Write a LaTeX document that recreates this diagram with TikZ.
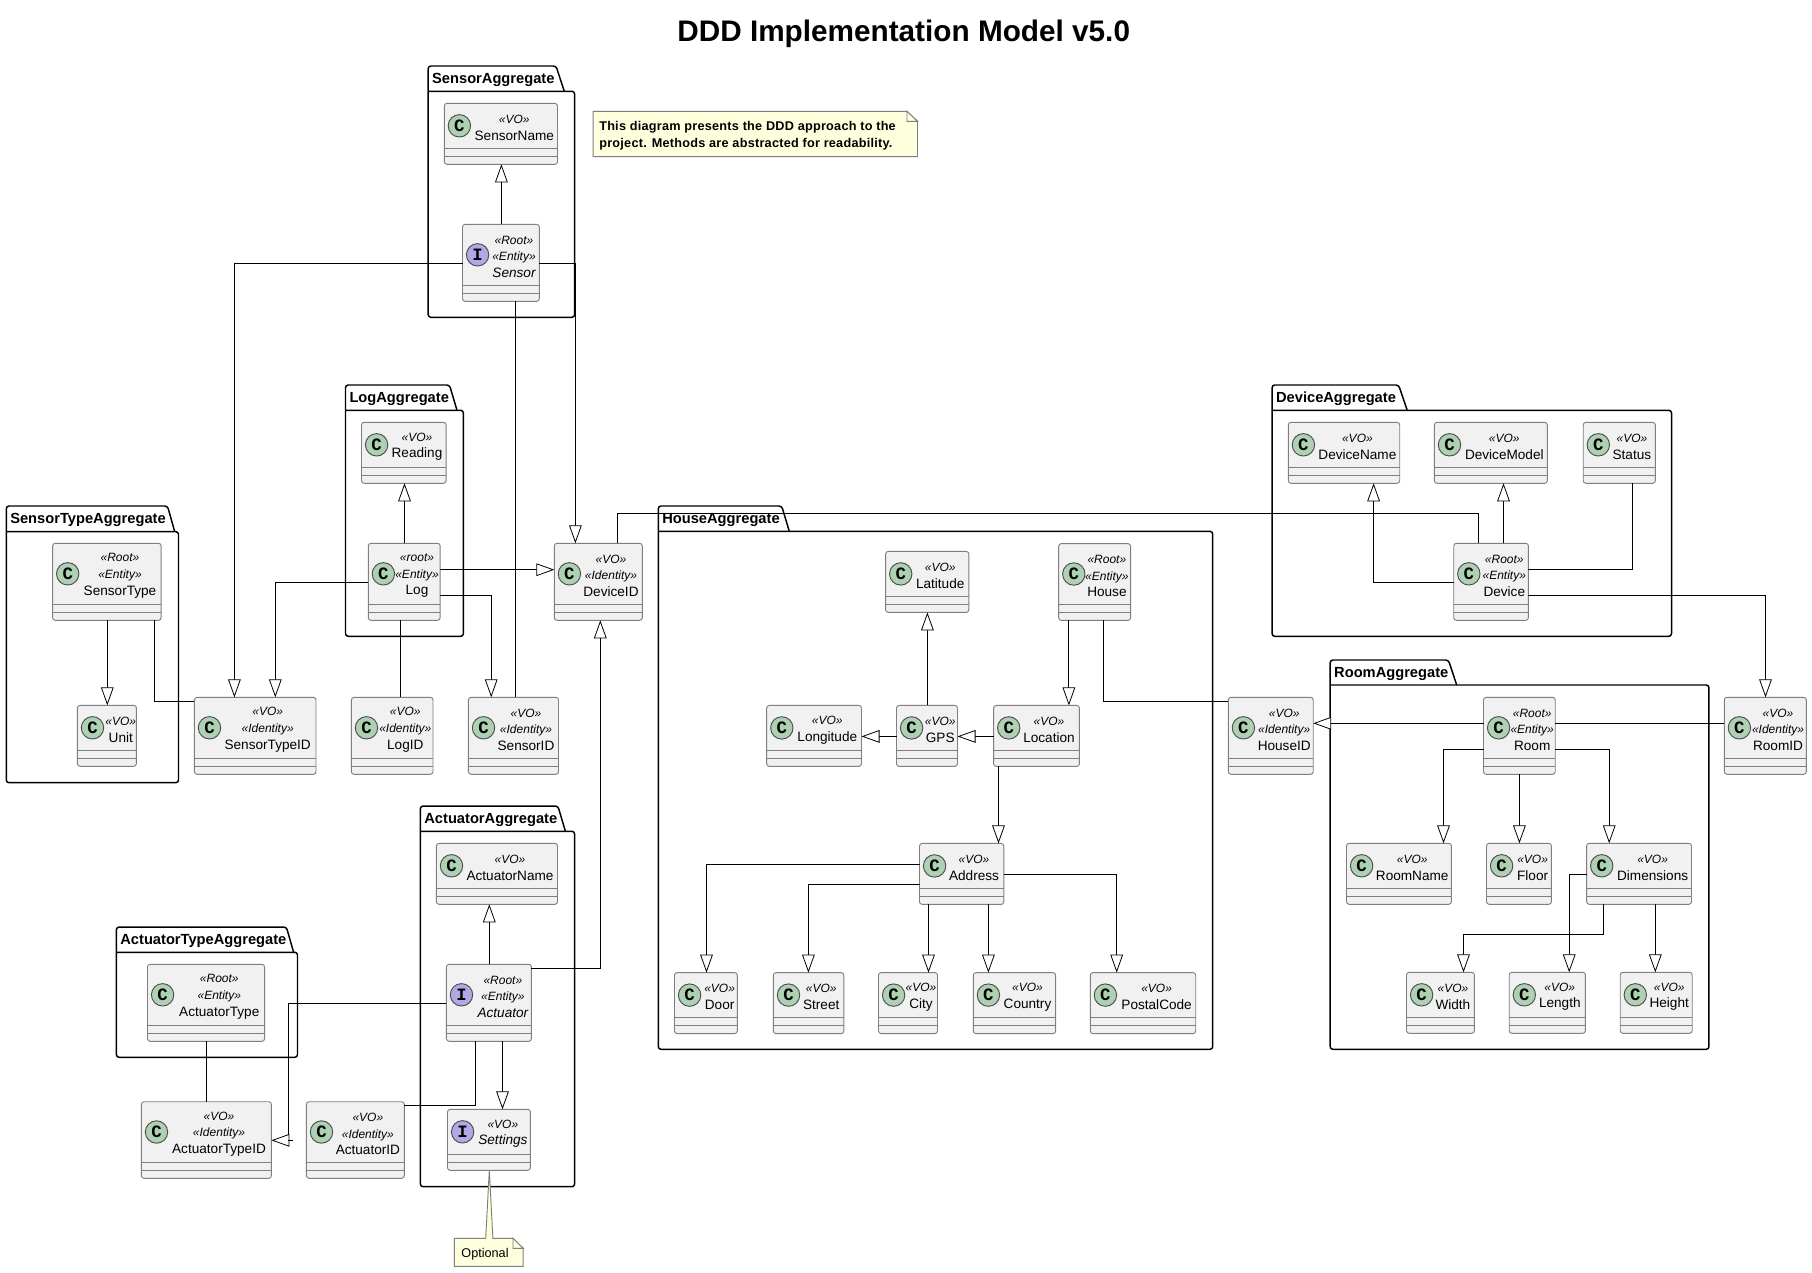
\documentclass[tikz,border=0pt]{standalone}
\usepackage{fontspec}
\setmainfont{Liberation Sans}
\newfontfamily\spotfamily{Liberation Mono}
\newfontfamily\notefamily[LetterSpace=2]{Liberation Sans}
\usetikzlibrary{arrows.meta}
\definecolor{boxfill}{HTML}{F1F1F1}
\definecolor{boxline}{HTML}{7F7F7F}
\definecolor{spotc}{HTML}{ADD1B2}
\definecolor{spoti}{HTML}{B4A7E5}
\definecolor{notefill}{HTML}{FEFFDD}
\tikzset{
  clsbox/.style={draw=boxline,fill=boxfill,line width=0.7pt,rounded corners=2pt,inner sep=0pt,outer sep=0pt},
  divline/.style={draw=boxline,line width=0.7pt},
  spotnode/.style={circle,draw=black!70,line width=0.7pt,minimum size=16.8pt,inner sep=0pt,outer sep=0pt,font=\spotfamily\bfseries\fontsize{13}{13}\selectfont},
  clstext/.style={align=center,inner sep=0pt,outer sep=0pt,font=\fontsize{10.2}{12.5}\selectfont},
  pkgtext/.style={anchor=west,inner sep=0pt,outer sep=0pt,font=\bfseries\fontsize{11}{13}\selectfont},
  link/.style={draw=black,line width=0.75pt},
  gen/.style={link,-{Triangle[length=13.5pt,width=9.5pt,fill=white,line width=0.6pt]}},
  noteline/.style={draw=boxline,fill=notefill,line width=0.7pt},
}
\newcommand{\st}[1]{{\fontsize{9}{12.5}\selectfont\itshape «#1»}}
% name x1 y1 x2 y2 kind(c/i) textx text
\newcommand{\cls}[8]{%
  \node[clsbox,minimum width={(#4-#2)*0.75pt},minimum height={(#5-#3)*0.75pt}] (#1) at ({(#2+#4)/2},{(#3+#5)/2}) {};
  \draw[divline] ([yshift=12pt]#1.south west) -- ([yshift=12pt]#1.south east);
  \draw[divline] ([yshift=6pt]#1.south west) -- ([yshift=6pt]#1.south east);
  \node[spotnode,fill=spot#6] (#1spot) at ({#2+15.1},{(#3+#5-16)/2}) {\MakeUppercase{#6}};
  \node[clstext] (#1text) at ({#7},{(#3+#5-16)/2+2}) {#8};
}
% name label x1 ytop tabtopright tabbaseright ybody x2 y2
\newcommand{\pkg}[9]{%
  \draw[draw=black,line width=1.1pt,line join=round] (#3,#7) [rounded corners=2pt] -- (#3,#4) -- (#5,#4) -- (#6,#7);
  \draw[draw=black,line width=1.1pt,line join=round] (#3,#7) -- (#8-2,#7) [rounded corners=2pt] -- (#8,#7) -- (#8,#9) -- (#3,#9) -- (#3,#7);
  \node[pkgtext] (#1) at ({#3+4},{(#4+#7)/2+1.5}) {#2};
}
\begin{document}
\begin{tikzpicture}[x=0.75pt,y=-0.75pt]
\useasboundingbox (0,0) rectangle (1812,1272);
\fill[white] (0,0) rectangle (1812,1272);
\node[font=\bfseries\fontsize{22.3}{26}\selectfont,inner sep=0pt] (title) at (903.7,33.8) {DDD Implementation Model v5.0};

\pkg{pSensor}{SensorAggregate}{428.2}{66}{556}{564.3}{91.3}{574.6}{317.3}
\pkg{pLog}{LogAggregate}{345.5}{385}{449.5}{457}{410.3}{463.4}{636.3}
\pkg{pSensorType}{SensorTypeAggregate}{6.3}{506}{167.5}{174.7}{531.7}{178.5}{782.7}
\pkg{pActuator}{ActuatorAggregate}{420.4}{806}{557.9}{565.4}{831.3}{574.6}{1186.7}
\pkg{pActuatorType}{ActuatorTypeAggregate}{116.4}{927}{286.4}{293.6}{952.3}{297.5}{1057.3}
\pkg{pHouse}{HouseAggregate}{658.3}{506}{781.7}{789.3}{531.4}{1212.7}{1049.3}
\pkg{pDevice}{DeviceAggregate}{1272.1}{385}{1398.6}{1407.2}{410.3}{1671.5}{636.3}
\pkg{pRoom}{RoomAggregate}{1330.2}{660}{1448.4}{1456.7}{685}{1708.9}{1049.3}

% notes
\path[noteline] (593.2,111.3) -- (907,111.3) -- (917.5,121.3) -- (917.5,156.7) -- (593.2,156.7) -- cycle;
\path[noteline] (907,111.3) -- (907,121.3) -- (917.5,121.3) -- cycle;
\node[anchor=west,inner sep=0pt,align=left,font=\notefamily\bfseries\fontsize{9.5}{12.75}\selectfont] (noteA) at (599,135.8) {This diagram presents the DDD approach to the\\project. Methods are abstracted for readability.};

% Sensor
\cls{SensorName}{444.3}{103.3}{557.5}{164.3}{c}{514.3}{\st{VO}\\SensorName}
\cls{Sensor}{462.5}{224.3}{539.3}{301.3}{i}{514}{\st{Root}\\\st{Entity}\\\itshape Sensor}
% Log
\cls{Reading}{361.5}{422.3}{446.1}{483.3}{c}{417}{\st{VO}\\Reading}
\cls{Log}{368.3}{543.3}{440.2}{620.3}{c}{417}{\st{root}\\\st{Entity}\\Log}
% SensorType
\cls{SensorType}{52.6}{543.3}{161.2}{620.3}{c}{120}{\st{Root}\\\st{Entity}\\SensorType}
\cls{Unit}{77.4}{705.3}{136.4}{766.3}{c}{120.8}{\st{VO}\\Unit}
% IDs
\cls{SensorTypeID}{194.4}{697.3}{316}{774.3}{c}{267.7}{\st{VO}\\\st{Identity}\\SensorTypeID}
\cls{LogID}{351.4}{697.3}{433}{774.3}{c}{405.3}{\st{VO}\\\st{Identity}\\LogID}
\cls{SensorID}{468.4}{697.3}{558.5}{774.3}{c}{526}{\st{VO}\\\st{Identity}\\SensorID}
\cls{DeviceID}{554.3}{543.3}{642.3}{620.3}{c}{611}{\st{VO}\\\st{Identity}\\DeviceID}
% Actuator
\cls{ActuatorName}{436.4}{843.3}{557.5}{904.3}{c}{510}{\st{VO}\\ActuatorName}
\cls{Actuator}{446.4}{964.3}{531.4}{1041.3}{i}{502.9}{\st{Root}\\\st{Entity}\\\itshape Actuator}
\cls{Settings}{447.5}{1109.3}{530.4}{1170.3}{i}{502.9}{\st{VO}\\\itshape Settings}
\cls{ActuatorType}{147.5}{964.3}{264.6}{1041.3}{c}{219.3}{\st{Root}\\\st{Entity}\\ActuatorType}
\cls{ActuatorTypeID}{141.4}{1101.7}{271.4}{1178.3}{c}{219}{\st{VO}\\\st{Identity}\\ActuatorTypeID}
\cls{ActuatorID}{306.4}{1101.7}{404.3}{1178.3}{c}{367.9}{\st{VO}\\\st{Identity}\\ActuatorID}
% House
\cls{House}{1058.7}{543.6}{1130.6}{620.4}{c}{1106.9}{\st{Root}\\\st{Entity}\\House}
\cls{Latitude}{885.6}{551.4}{968.8}{612.4}{c}{940.2}{\st{VO}\\Latitude}
\cls{Longitude}{766.7}{705.4}{861.5}{766.4}{c}{827.3}{\st{VO}\\Longitude}
\cls{GPS}{896.5}{705.4}{957.5}{766.4}{c}{940.2}{\st{VO}\\GPS}
\cls{Location}{993.6}{705.4}{1079.4}{766.4}{c}{1049}{\st{VO}\\Location}
\cls{Address}{919.5}{843.4}{1003.8}{904.4}{c}{974}{\st{VO}\\Address}
\cls{Door}{674.5}{972.6}{737.3}{1033.6}{c}{719.6}{\st{VO}\\Door}
\cls{Street}{773.4}{972.6}{843.8}{1033.6}{c}{821.2}{\st{VO}\\Street}
\cls{City}{878.5}{972.6}{937.5}{1033.6}{c}{921}{\st{VO}\\City}
\cls{Country}{973.3}{972.6}{1055.7}{1033.6}{c}{1027.5}{\st{VO}\\Country}
\cls{PostalCode}{1090.3}{972.6}{1195.7}{1033.6}{c}{1156.6}{\st{VO}\\PostalCode}
% Device
\cls{DeviceName}{1288.3}{422.3}{1399.7}{483.3}{c}{1357.4}{\st{VO}\\DeviceName}
\cls{DeviceModel}{1434.4}{422.3}{1547.3}{483.3}{c}{1504.3}{\st{VO}\\DeviceModel}
\cls{Status}{1583.2}{422.3}{1655.3}{483.3}{c}{1631.9}{\st{VO}\\Status}
\cls{Device}{1453.7}{543.3}{1528.4}{620.3}{c}{1504.3}{\st{Root}\\\st{Entity}\\Device}
% Room
\cls{HouseID}{1228.3}{697.3}{1313.2}{774.3}{c}{1284.2}{\st{VO}\\\st{Identity}\\HouseID}
\cls{RoomID}{1724.3}{697.3}{1806.3}{774.3}{c}{1778}{\st{VO}\\\st{Identity}\\RoomID}
\cls{Room}{1483.5}{697.3}{1555.2}{774.3}{c}{1532.2}{\st{Root}\\\st{Entity}\\Room}
\cls{RoomName}{1346.5}{843.3}{1451.4}{904.3}{c}{1412.2}{\st{VO}\\RoomName}
\cls{Floor}{1486.5}{843.3}{1551.4}{904.3}{c}{1532.6}{\st{VO}\\Floor}
\cls{Dimensions}{1586.6}{843.3}{1691.5}{904.3}{c}{1652.6}{\st{VO}\\Dimensions}
\cls{Width}{1406.5}{972.3}{1474.4}{1033.3}{c}{1452.9}{\st{VO}\\Width}
\cls{Length}{1509.2}{972.3}{1585.4}{1033.3}{c}{1559.8}{\st{VO}\\Length}
\cls{Height}{1620.2}{972.3}{1692.2}{1033.3}{c}{1669.2}{\st{VO}\\Height}

% Optional note
\path[noteline] (454.3,1238.3) -- (485.7,1238.3) -- (Settings.south -| 489.3,0) -- (492.9,1238.3) -- (513,1238.3) -- (523.2,1248.3) -- (523.2,1266.3) -- (454.3,1266.3) -- cycle;
\path[noteline] (513,1238.3) -- (513,1248.3) -- (523.2,1248.3) -- cycle;
\node[inner sep=0pt,font=\fontsize{9.5}{12}\selectfont] (noteB) at (485,1254) {Optional};

% connectors
\draw[gen] (Sensor.north -| 501.4,0) -- (SensorName.south -| 501.4,0);
\draw[gen] (Sensor.west |- 0,263.3) -| (SensorTypeID.north -| 234.4,0);
\draw[gen] (Sensor.east |- 0,263.3) -| (DeviceID.north -| 575.4,0);
\draw[link] (Sensor.south -| 515.5,0) -- (SensorID.north -| 515.5,0);
\draw[gen] (Log.north -| 404.5,0) -- (Reading.south -| 404.5,0);
\draw[gen] (Log.west |- 0,582.3) -| (SensorTypeID.north -| 275.3,0);
\draw[gen] (Log.east |- 0,569.7) -- (DeviceID.west |- 0,569.7);
\draw[gen] (Log.east |- 0,595.3) -| (SensorID.north -| 491.2,0);
\draw[link] (Log.south -| 400.3,0) -- (LogID.north -| 400.3,0);
\draw[gen] (SensorType.south -| 107.3,0) -- (Unit.north -| 107.3,0);
\draw[link] (SensorType.south -| 154.5,0) |- (SensorTypeID.west |- 0,701.3);
\draw[link] (DeviceID.north -| 617.4,0) |- (1478.6,513.3) -- (Device.north -| 1478.6,0);
\draw[gen] (Actuator.north -| 489.3,0) -- (ActuatorName.south -| 489.3,0);
\draw[gen] (Actuator.east |- 0,968.3) -| (DeviceID.south -| 600.3,0);
\draw[gen] (Actuator.south -| 502.5,0) -- (Settings.north -| 502.5,0);
\draw[link] (Actuator.south -| 475.4,0) |- (ActuatorID.east |- 0,1105.3);
\coordinate (bendA) at (288.3,1140.3);
\coordinate (tickA) at (293.3,1140.3);
\draw[gen] (Actuator.west |- 0,1003.3) -| (bendA) -- (ActuatorTypeID.east |- bendA);
\draw[link] (bendA) -- (tickA);
\draw[link] (ActuatorType.south -| 206.4,0) -- (ActuatorTypeID.north -| 206.4,0);
% House
\draw[gen] (House.south -| 1068.9,0) -- (Location.north -| 1068.9,0);
\draw[link] (House.south -| 1103.5,0) |- (HouseID.west |- 0,701.8);
\draw[gen] (Location.west |- 0,736.4) -- (GPS.east |- 0,736.4);
\draw[gen] (GPS.west |- 0,736.4) -- (Longitude.east |- 0,736.4);
\draw[gen] (GPS.north -| 927.4,0) -- (Latitude.south -| 927.4,0);
\draw[gen] (Location.south -| 998.5,0) -- (Address.north -| 998.5,0);
\draw[gen] (Address.west |- 0,864.6) -| (Door.north -| 706.5,0);
\draw[gen] (Address.west |- 0,884.6) -| (Street.north -| 808.4,0);
\draw[gen] (Address.south -| 928.5,0) -- (City.north -| 928.5,0);
\draw[gen] (Address.south -| 988.4,0) -- (Country.north -| 988.4,0);
\draw[gen] (Address.east |- 0,874.3) -| (PostalCode.north -| 1116.7,0);
% Device
\draw[gen] (Device.north -| 1503.5,0) -- (DeviceModel.south -| 1503.5,0);
\draw[gen] (Device.west |- 0,582.3) -| (DeviceName.south -| 1373.6,0);
\draw[link] (Device.east |- 0,569.3) -| (Status.south -| 1632.2,0);
\draw[gen] (Device.east |- 0,595.3) -| (RoomID.north -| 1765.5,0);
% Room
\draw[gen] (Room.west |- 0,723.3) -- (HouseID.east |- 0,723.3);
\draw[link] (Room.east |- 0,723.3) -- (RoomID.west |- 0,723.3);
\draw[gen] (Room.west |- 0,749.3) -| (RoomName.north -| 1443.5,0);
\draw[gen] (Room.south -| 1519.4,0) -- (Floor.north -| 1519.4,0);
\draw[gen] (Room.east |- 0,749.3) -| (Dimensions.north -| 1609.2,0);
\draw[gen] (Dimensions.south -| 1603.5,0) |- (1463.5,934.3) -- (Width.north -| 1463.5,0);
\draw[gen] (Dimensions.west |- 0,874.3) -| (Length.north -| 1569.2,0);
\draw[gen] (Dimensions.south -| 1655.3,0) -- (Height.north -| 1655.3,0);
\end{tikzpicture}
\end{document}
